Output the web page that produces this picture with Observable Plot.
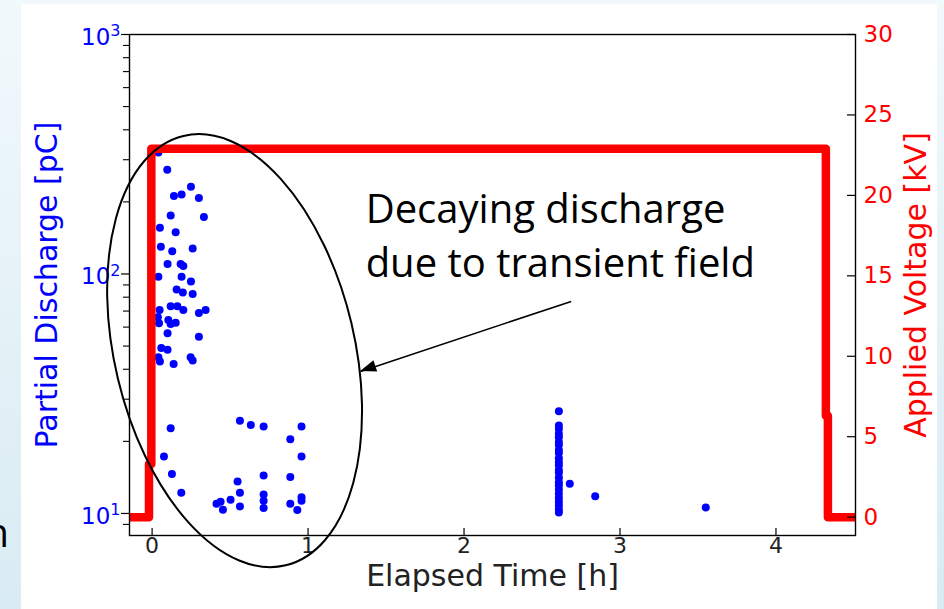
<!DOCTYPE html>
<html>
<head>
<meta charset="utf-8">
<script src="https://cdn.jsdelivr.net/npm/d3@7"></script>
<script src="https://cdn.jsdelivr.net/npm/@observablehq/plot@0.6"></script>
<style>
  html, body { margin: 0; padding: 0; }
  body { width: 944px; height: 609px; overflow: hidden; background: linear-gradient(to bottom, #f1f9fc, #d9ebf3); }
  #stage { position: relative; width: 944px; height: 609px; }
  #card { position: absolute; left: 21px; top: 4px; width: 916px; height: 605px; background: #ffffff; }
  #stage > svg { position: absolute; left: 0; top: 0; }
</style>
</head>
<body>
<div id="stage">
  <div id="card"></div>
  <svg id="frag" width="944" height="609" style="position:absolute;left:0;top:0;"><text x="9" y="547" text-anchor="end" font-family="Open Sans" font-size="40" fill="#000">n</text></svg>
</div>
<script>
// ---- Data ----
// Partial discharge events: upper cluster right after energizing
const burstTime = [0.040, 0.097, 0.249, 0.140, 0.189, 0.300, 0.119, 0.332, 0.050, 0.151, 0.056, 0.129, 0.260, 0.099, 0.183, 0.200, 0.040, 0.189, 0.249, 0.157, 0.197, 0.260, 0.048, 0.119, 0.162, 0.200, 0.300, 0.343, 0.037, 0.044, 0.104, 0.119, 0.151, 0.099, 0.300, 0.059, 0.099, 0.040, 0.050, 0.138, 0.247, 0.260];
const burstPC   = [321.8, 272.4, 231.3, 211.6, 214.9, 207.6, 175.6, 172.9, 156.1, 149.2, 130.0, 124.3, 127.9, 110.1, 110.1, 108.0, 97.4, 97.4, 93.1, 86.2, 83.6, 82.5, 70.7, 73.3, 73.3, 70.7, 68.7, 70.7, 65.9, 62.2, 64.3, 61.8, 62.6, 56.5, 54.7, 49.1, 48.3, 44.9, 43.1, 42.1, 44.9, 43.5];
// lower-amplitude events in the first hour
const lowTime = [0.119, 0.076, 0.127, 0.187, 0.563, 0.633, 0.715, 0.958, 0.886, 0.958, 0.715, 0.886, 0.548, 0.563, 0.715, 0.715, 0.715, 0.958, 0.958, 0.886, 0.931, 0.413, 0.439, 0.454, 0.503, 0.563];
const lowPC   = [22.7, 17.3, 14.6, 12.2, 24.4, 23.4, 23.1, 23.1, 20.4, 17.3, 14.4, 14.2, 13.6, 12.2, 12.0, 11.3, 10.55, 11.7, 11.3, 10.97, 10.35, 10.97, 11.2, 10.36, 11.4, 10.7];
// later events (column near 2.6 h and a few stragglers)
const laterTime = [2.608, 2.608, 2.608, 2.608, 2.608, 2.608, 2.608, 2.608, 2.608, 2.608, 2.608, 2.608, 2.608, 2.608, 2.608, 2.608, 2.608, 2.608, 2.608, 2.608, 2.608, 2.608, 2.608, 2.608, 2.678, 2.841, 3.55];
const laterPC   = [26.7, 23.3, 22.5, 21.5, 20.8, 19.9, 19.3, 18.4, 17.9, 17.0, 16.4, 15.9, 15.2, 14.8, 14.1, 13.5, 13.1, 12.6, 12.1, 11.6, 11.2, 10.8, 10.4, 10.1, 13.3, 11.8, 10.6];

// Applied voltage trace
const voltTime = [-0.145, -0.02, -0.02, -0.005, -0.005, 4.32, 4.32, 4.333, 4.333, 4.51];
const voltKV   = [0, 0, 3.3, 3.3, 22.9, 22.9, 6.3, 6.3, 0, 0];

// Axes
const xDomain = [-0.145, 4.51];
const xTicks = [0, 1, 2, 3, 4];
const pcDomain = [8.09, 1000];
const pcMajorTicks = [10, 100, 1000];
const pcMinorTicks = [9, 20, 30, 40, 50, 60, 70, 80, 90, 200, 300, 400, 500, 600, 700, 800, 900];
const kvDomain = [-1.14, 30];
const kvTicks = [0, 5, 10, 15, 20, 25, 30];
const xLabel = "Elapsed Time [h]";
const pcLabel = "Partial Discharge [pC]";
const kvLabel = "Applied Voltage [kV]";

// Annotation
const noteLines = ["Decaying discharge", "due to transient field"];
const noteTime = [1.369, 1.369];
const noteKV = [18.31, 14.90];
const arrowFrom = {t: 2.687, kv: 13.41};
const arrowTo = {t: 1.337, kv: 9.06};
const ellipseCenter = {t: 0.532, kv: 10.32};

(function () {
// ---- Build tables ----
const pd = [];
[[burstTime, burstPC], [lowTime, lowPC], [laterTime, laterPC]].forEach(([ts, vs]) => ts.forEach((t, i) => pd.push({t, pc: vs[i]})));
const volt = voltTime.map((t, i) => ({t, kv: voltKV[i]}));

const W = 944, H = 609, ML = 129, MR = 89, MT = 34, MB = 74;
const plotW = W - ML - MR, plotH = H - MT - MB;
const FONT = "DejaVu Sans";
const BLUE = "#0000ff", RED = "#ff0000", INK = "#222222";

const common = {
  width: W, height: H, marginLeft: ML, marginRight: MR, marginTop: MT, marginBottom: MB,
  style: {background: "transparent", fontFamily: FONT, overflow: "visible"},
  x: {domain: xDomain, axis: null}
};

// Bottom layer: discharge events on log scale with left axis
const pdPlot = Plot.plot({
  ...common,
  y: {type: "log", domain: pcDomain, axis: null},
  marks: [
    Plot.dot(pd, {x: "t", y: "pc", r: 4, fill: BLUE}),
    Plot.ruleY(pcMajorTicks, {y: d => d, insetLeft: -8, insetRight: plotW, stroke: "black", strokeWidth: 1.2}),
    Plot.ruleY(pcMinorTicks, {y: d => d, insetLeft: -6, insetRight: plotW, stroke: "black", strokeWidth: 1.1}),
    Plot.text(pcMajorTicks, {y: d => d, text: d => "10^" + Math.round(Math.log10(d)), frameAnchor: "left", textAnchor: "end", dx: -9, dy: 3, fill: BLUE, fontSize: 23}),
    Plot.text([pcLabel], {text: d => d, frameAnchor: "left", textAnchor: "middle", rotate: -90, dx: -82, fill: BLUE, fontSize: 30})
  ]
});

// Top layer: voltage trace on linear scale, frame, x axis, right axis, annotation
const kvPlot = Plot.plot({
  ...common,
  y: {domain: kvDomain, axis: null},
  marks: [
    Plot.line(volt, {x: "t", y: "kv", stroke: RED, strokeWidth: 8.5, strokeLinejoin: "round", clip: true}),
    Plot.frame({stroke: "black", strokeWidth: 1.4}),
    Plot.ruleX(xTicks, {x: d => d, insetTop: plotH - 7, stroke: "black", strokeWidth: 1.2}),
    Plot.text(xTicks, {x: d => d, text: d => String(d), frameAnchor: "bottom", dy: 17, fill: INK, fontSize: 22}),
    Plot.ruleY(kvTicks, {y: d => d, insetLeft: plotW - 8, stroke: "black", strokeWidth: 1.2}),
    Plot.text(kvTicks, {y: d => d, text: d => String(d), frameAnchor: "right", textAnchor: "start", dx: 8, fill: RED, fontSize: 23}),
    Plot.text([xLabel], {text: d => d, frameAnchor: "bottom", textAnchor: "middle", dy: 50, fill: INK, fontSize: 30}),
    Plot.text([kvLabel], {text: d => d, frameAnchor: "right", textAnchor: "middle", rotate: -90, dx: 61, fill: RED, fontSize: 30}),
    Plot.link([0], {x1: () => arrowFrom.t, y1: () => arrowFrom.kv, x2: () => arrowTo.t, y2: () => arrowTo.kv, stroke: "black", strokeWidth: 1.6}),
    Plot.text(noteLines, {x: (d, i) => noteTime[i], y: (d, i) => noteKV[i], text: d => d, textAnchor: "start", lineAnchor: "bottom", fontFamily: "Open Sans", fontSize: 40, fill: "black"})
  ]
});

const stage = document.getElementById("stage");
stage.appendChild(pdPlot);
stage.appendChild(kvPlot);

// Superscript exponents on the log axis labels
d3.select(pdPlot).selectAll("text").each(function () {
  const m = this.textContent.match(/^10\^(\d)$/);
  if (m) {
    this.textContent = "10";
    d3.select(this).append("tspan").attr("dy", "-8.5").attr("font-size", "16px").text(m[1]);
  }
});

// Ellipse and filled arrowhead, positioned through the plot's scales
const sx = kvPlot.scale("x"), sy = kvPlot.scale("y");
const cx = sx.apply(ellipseCenter.t), cy = sy.apply(ellipseCenter.kv);
const g = d3.select(kvPlot).append("g");
g.append("ellipse").attr("cx", cx).attr("cy", cy).attr("rx", 120).attr("ry", 220.7)
  .attr("transform", `rotate(-13.4 ${cx} ${cy})`).attr("fill", "none").attr("stroke", "black").attr("stroke-width", 2);
const x1 = sx.apply(arrowFrom.t), y1 = sy.apply(arrowFrom.kv), x2 = sx.apply(arrowTo.t), y2 = sy.apply(arrowTo.kv);
const len = Math.hypot(x2 - x1, y2 - y1), ux = (x2 - x1) / len, uy = (y2 - y1) / len;
const L = 16, hw = 6;
const bx = x2 - ux * L, by = y2 - uy * L;
g.append("path").attr("d", `M${x2},${y2}L${bx - uy * hw},${by + ux * hw}L${bx + uy * hw},${by - ux * hw}Z`).attr("fill", "black");
})();
</script>
</body>
</html>
